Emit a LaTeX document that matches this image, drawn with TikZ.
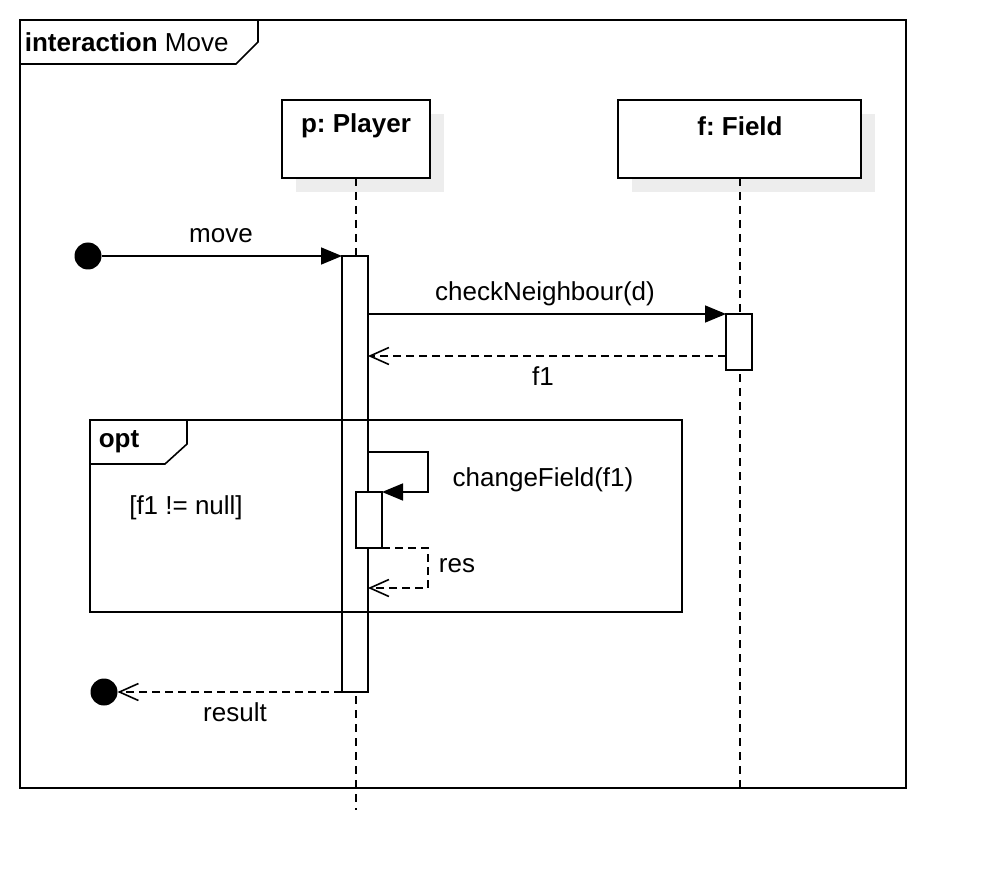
\documentclass[tikz,border=0pt]{standalone}
\usepackage{fontspec}
\setmainfont{Liberation Sans}
\usetikzlibrary{arrows.meta,calc}
\frenchspacing
\begin{document}
\begin{tikzpicture}[x=1pt,y=-1pt, line width=1.6pt,
  font=\fontsize{26}{31}\selectfont,
  box/.style={draw, fill=white, inner sep=0pt, outer sep=0pt, anchor=north west},
  shadowbox/.style={fill=black!7, draw=none},
  act/.style={draw, fill=white, inner sep=0pt, outer sep=0pt, minimum width=26pt, anchor=north west},
  life/.style={dash pattern=on 8pt off 6pt},
  ret/.style={dash pattern=on 8pt off 5pt, -{Straight Barb[length=19pt,width=17pt]}},
  msg/.style={-{Triangle[length=21pt,width=17pt]}},
  dot/.style={circle, fill=black, inner sep=0pt, outer sep=0pt, minimum size=27pt},
  lbl/.style={inner sep=0pt},
  blbl/.style={inner sep=0pt, font=\fontsize{26}{31}\selectfont\bfseries}
]
\useasboundingbox (0,0) rectangle (986,896);
\fill[white] (0,0) rectangle (986,896);

% outer frame
\node[box, fill=none, minimum width=886pt, minimum height=768pt] (frame) at (20,20) {};
\draw (20,20) -| (258,42) -- (236,64) -- (20,64);
\node[lbl, anchor=west] (ftitle) at (24,42) {\textbf{interaction} Move};

% lifeline heads with shadows
\fill[shadowbox] (296,114) rectangle (444,192);
\fill[shadowbox] (632,114) rectangle (875,192);
\node[box, minimum width=148pt, minimum height=78pt] (player) at (282,100) {};
\node[box, minimum width=243pt, minimum height=78pt] (field) at (618,100) {};
\node[blbl] (playerlbl) at (356,126) {p: Player};
\node[blbl] (fieldlbl) at (740,126) {f: Field};

% lifelines
\coordinate (pend) at (356,810);
\coordinate (fend) at (740,788);
\draw[life] (player.south) -- (pend);
\draw[life] (field.south -| fend) -- (fend);

% activations
\node[act, minimum height=436pt] (actP) at (342,256) {};
\node[act, minimum height=56pt] (actF) at (726,314) {};

% start and end points
\node[dot] (start) at (88,256) {};
\node[dot] (stop) at (104,692) {};

% move
\draw[msg] (start) -- (start -| actP.west);
\node[lbl] (movelbl) at (221,236) {move};

% checkNeighbour
\coordinate (cnA) at (368,314);
\draw[msg] (cnA) -- (actF.north west);
\node[lbl] (cnlbl) at (545,294) {checkNeighbour(d)};

% f1 return
\coordinate (f1A) at (726,356);
\coordinate (f1B) at (368,356);
\draw[ret] (f1A) -- (f1B);
\node[lbl] (f1lbl) at (543,376) {f1};

% opt fragment
\node[box, fill=none, minimum width=592pt, minimum height=192pt] (opt) at (90,420) {};
\draw (90,420) -| (187,444) -- (165,464) -- (90,464);
\node[blbl, anchor=west] (optlbl) at (98,442) {opt};
\node[lbl] (guard) at (186,508) {[f1 != null]};

% inner activation
\node[act, minimum height=56pt] (actI) at (356,492) {};

% self call
\coordinate (scA) at (368,452);
\coordinate (scB) at (428,452);
\coordinate (scC) at (428,492);
\draw[msg] (scA) -- (scB) -- (scC) -- (actI.north east);
\node[lbl] (sclbl) at (543,480) {changeField(f1)};

% res return
\coordinate (rsB) at (428,548);
\coordinate (rsC) at (428,588);
\coordinate (rsD) at (368,588);
\draw[ret] (actI.south east) -- (rsB) -- (rsC) -- (rsD);
\node[lbl] (rslbl) at (457,566) {res};

% result
\draw[ret] (actP.south west) -- (actP.south west -| stop.east);
\node[lbl] (resultlbl) at (235,712) {result};
\end{tikzpicture}
\end{document}
